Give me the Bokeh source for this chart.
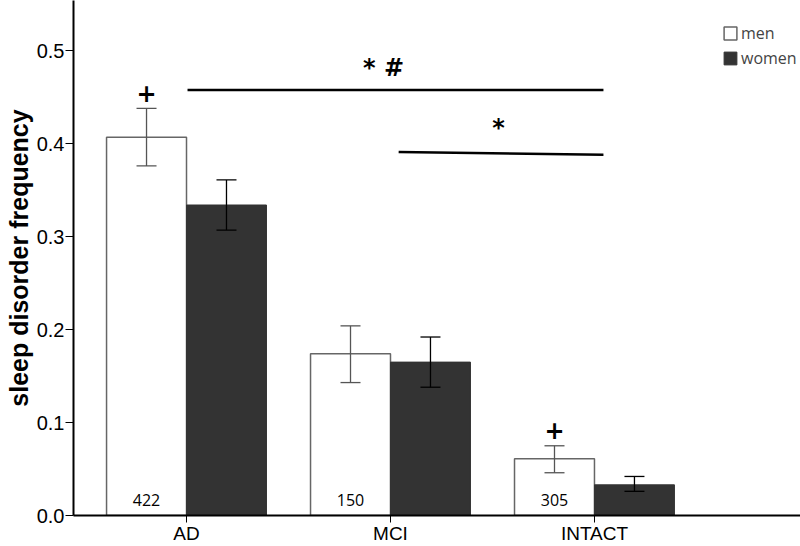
from bokeh.plotting import figure
from bokeh.models import ColumnDataSource, FixedTicker, Whisker, TeeHead, Legend, LegendItem
from bokeh.core.properties import value
from bokeh.embed import file_html
from bokeh.resources import INLINE

categories = ["AD", "MCI", "INTACT"]
men = [0.407, 0.174, 0.061]
men_lo = [0.376, 0.143, 0.046]
men_hi = [0.438, 0.204, 0.075]
women = [0.334, 0.165, 0.033]
women_lo = [0.307, 0.138, 0.026]
women_hi = [0.361, 0.192, 0.042]
counts = ["422", "150", "305"]
plus_idx = [0, 2]
sig_lines = [
    {"x": [0.005, 2.044], "y": [0.4576, 0.4576], "label": "* #", "lx": 0.966, "ly": 0.481},
    {"x": [1.04, 2.044], "y": [0.391, 0.388], "label": "*", "lx": 1.53, "ly": 0.417},
]

bw = 0.392
xc = list(range(len(categories)))
xm = [x - bw / 2 for x in xc]
xw = [x + bw / 2 for x in xc]

p = figure(width=800, height=546, output_backend="svg", toolbar_location=None,
           x_range=(-0.554, 3.01), y_range=(0, 0.554),
           min_border_left=73, min_border_right=0, min_border_top=0, min_border_bottom=30)
p.outline_line_color = None
p.grid.visible = False
p.background_fill_color = "white"

src_m = ColumnDataSource(dict(x=xm, top=men, lo=men_lo, hi=men_hi))
src_w = ColumnDataSource(dict(x=xw, top=women, lo=women_lo, hi=women_hi))

rm = p.vbar(x="x", top="top", width=bw, source=src_m, fill_color="white", line_color="#666666", line_width=1.5)
rw = p.vbar(x="x", top="top", width=bw, source=src_w, fill_color="#333333", line_color="#333333", line_width=1)

for src, col in ((src_m, "#555555"), (src_w, "#000000")):
    wk = Whisker(source=src, base="x", lower="lo", upper="hi", line_color=col, line_width=1.3,
                 level="overlay",
                 upper_head=TeeHead(size=20, line_color=col, line_width=1.3),
                 lower_head=TeeHead(size=20, line_color=col, line_width=1.3))
    p.add_layout(wk)

# counts
p.text(x=xm, y=[0.017] * 3, text=counts, text_align="center", text_baseline="middle",
       text_font=value("Open Sans"), text_font_size="16px", text_color="black")

# plus signs
p.text(x=[xm[i] for i in plus_idx], y=[men_hi[i] + 0.017 for i in plus_idx], text=["+"] * len(plus_idx),
       text_align="center", text_baseline="middle", text_font=value("DejaVu Sans"),
       text_font_size="24px", text_font_style="bold", text_color="black")

for s in sig_lines:
    p.line(x=s["x"], y=s["y"], line_color="black", line_width=2.5)
    p.text(x=[s["lx"]], y=[s["ly"]], text=[s["label"]], text_align="center", text_baseline="middle",
           text_font=value("DejaVu Sans"), text_font_size="24px", text_font_style="bold", text_color="black")

# axes
p.xaxis.ticker = FixedTicker(ticks=xc)
p.xaxis.major_label_overrides = {i: c for i, c in enumerate(categories)}
p.xaxis.minor_tick_line_color = None
p.xaxis.major_tick_out = 7
p.xaxis.major_tick_in = 0
p.xaxis.axis_line_width = 2
p.xaxis.major_tick_line_width = 1
p.xaxis.major_label_standoff = 0
p.xaxis.major_label_text_font = "Liberation Sans"
p.xaxis.major_label_text_font_size = "19px"
p.xaxis.major_label_text_color = "black"

p.yaxis.ticker = FixedTicker(ticks=[0.0, 0.1, 0.2, 0.3, 0.4, 0.5])
p.yaxis.major_label_overrides = {0.0: "0.0", 0.1: "0.1", 0.2: "0.2", 0.3: "0.3", 0.4: "0.4", 0.5: "0.5"}
p.yaxis.minor_tick_line_color = None
p.yaxis.major_tick_out = 8
p.yaxis.major_tick_in = 0
p.yaxis.axis_line_width = 2
p.yaxis.major_label_standoff = 1
p.yaxis.major_label_text_font = "Liberation Sans"
p.yaxis.major_label_text_font_size = "20px"
p.yaxis.major_label_text_color = "black"
p.yaxis.axis_label = "sleep disorder frequency"
p.yaxis.axis_label_text_font = "Liberation Sans"
p.yaxis.axis_label_text_font_size = "25px"
p.yaxis.axis_label_text_font_style = "bold"
p.yaxis.axis_label_text_color = "black"
p.yaxis.axis_label_standoff = 1

legend = Legend(items=[LegendItem(label="men", renderers=[rm]), LegendItem(label="women", renderers=[rw])],
                location=(649, 446))
legend.padding = 0
legend.margin = 0
legend.spacing = 3
legend.glyph_width = 16
legend.glyph_height = 16
legend.label_height = 16
legend.label_standoff = 3
legend.label_text_font = "Open Sans"
legend.label_text_font_size = "16px"
legend.border_line_alpha = 0
legend.background_fill_alpha = 0
p.add_layout(legend)

open("out.html", "w").write(file_html(p, INLINE))
